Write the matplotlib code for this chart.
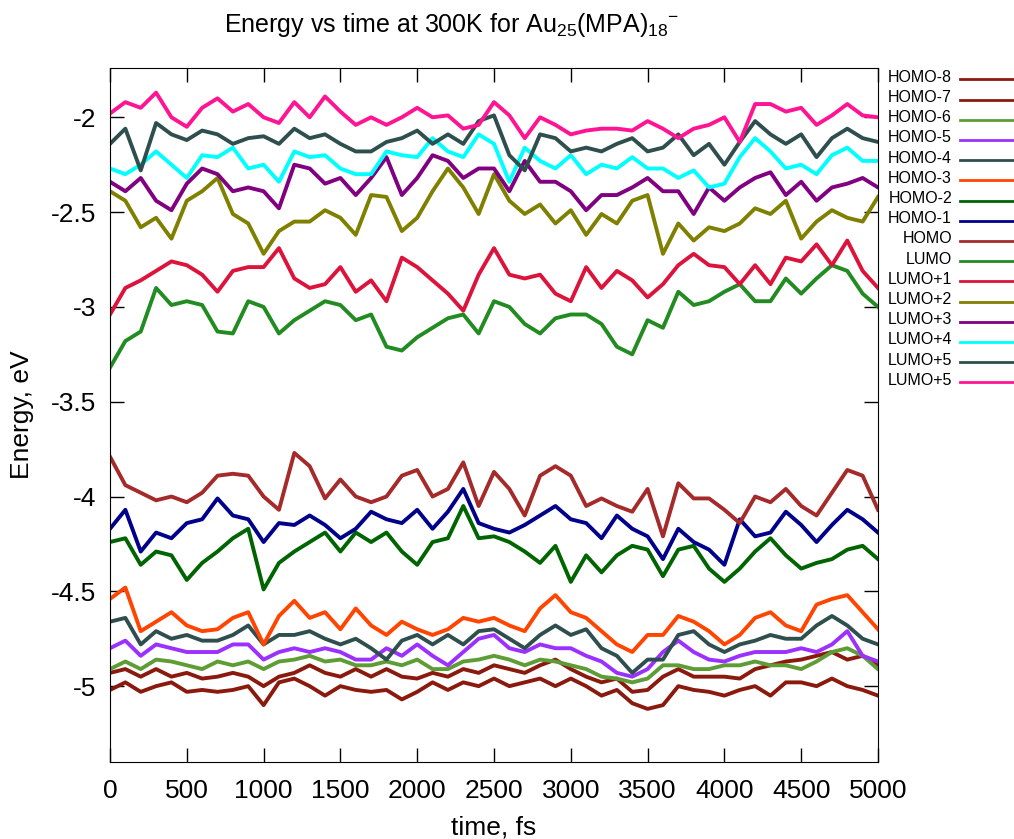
import matplotlib
matplotlib.use("Agg")
import matplotlib.pyplot as plt
from matplotlib.lines import Line2D

plt.rcParams['font.family'] = ['Liberation Sans', 'DejaVu Sans']
plt.rcParams['mathtext.fontset'] = 'custom'
plt.rcParams['mathtext.rm'] = 'Liberation Sans'
plt.rcParams['mathtext.it'] = 'Liberation Sans:italic'

# time axis, fs (sampled every 100 fs)
time_fs = list(range(0, 5001, 100))

# orbital energies, eV
homo8 = [-5.02, -4.98, -5.03, -5.00, -4.98, -5.03, -5.02, -5.03, -5.02, -5.00, -5.10, -4.98, -4.96,
         -5.00, -5.05, -5.00, -5.02, -5.03, -5.02, -5.07, -5.03, -4.98, -5.02, -4.98, -5.00, -4.96,
         -5.00, -4.98, -4.96, -5.00, -4.96, -5.00, -5.05, -5.02, -5.09, -5.12, -5.10, -5.00, -5.02,
         -5.03, -5.05, -5.02, -5.00, -5.05, -4.98, -4.98, -5.00, -4.96, -5.00, -5.02, -5.05]
homo7 = [-4.93, -4.91, -4.95, -4.91, -4.95, -4.93, -4.96, -4.95, -4.93, -4.95, -5.00, -4.95, -4.93,
         -4.89, -4.93, -4.95, -4.91, -4.95, -4.91, -4.95, -4.96, -4.93, -4.95, -4.91, -4.93, -4.89,
         -4.91, -4.93, -4.89, -4.86, -4.91, -4.95, -4.98, -4.96, -5.03, -5.02, -4.95, -4.91, -4.95,
         -4.95, -4.95, -4.96, -4.91, -4.89, -4.87, -4.86, -4.84, -4.82, -4.86, -4.84, -4.89]
homo6 = [-4.91, -4.87, -4.91, -4.86, -4.87, -4.89, -4.91, -4.87, -4.89, -4.87, -4.91, -4.87, -4.86,
         -4.84, -4.87, -4.86, -4.89, -4.89, -4.87, -4.89, -4.86, -4.91, -4.91, -4.87, -4.86, -4.84,
         -4.86, -4.89, -4.86, -4.87, -4.89, -4.91, -4.95, -4.96, -4.98, -4.96, -4.89, -4.89, -4.91,
         -4.91, -4.89, -4.89, -4.87, -4.89, -4.89, -4.91, -4.87, -4.82, -4.80, -4.84, -4.91]
homo5 = [-4.80, -4.76, -4.84, -4.78, -4.80, -4.82, -4.82, -4.82, -4.78, -4.78, -4.86, -4.82, -4.80,
         -4.82, -4.80, -4.82, -4.86, -4.86, -4.80, -4.84, -4.78, -4.84, -4.89, -4.82, -4.75, -4.73,
         -4.80, -4.82, -4.78, -4.80, -4.80, -4.84, -4.87, -4.93, -4.95, -4.91, -4.82, -4.76, -4.82,
         -4.86, -4.87, -4.84, -4.82, -4.82, -4.82, -4.80, -4.82, -4.78, -4.71, -4.84, -4.87]
homo4 = [-4.66, -4.64, -4.78, -4.71, -4.75, -4.73, -4.76, -4.76, -4.73, -4.68, -4.78, -4.73, -4.73,
         -4.71, -4.75, -4.78, -4.75, -4.80, -4.86, -4.76, -4.73, -4.78, -4.73, -4.78, -4.71, -4.70,
         -4.75, -4.80, -4.73, -4.68, -4.73, -4.70, -4.80, -4.84, -4.93, -4.86, -4.86, -4.73, -4.71,
         -4.78, -4.82, -4.78, -4.76, -4.73, -4.75, -4.75, -4.68, -4.63, -4.68, -4.75, -4.78]
homo3 = [-4.54, -4.48, -4.71, -4.66, -4.61, -4.68, -4.71, -4.70, -4.64, -4.61, -4.78, -4.63, -4.55,
         -4.64, -4.61, -4.70, -4.59, -4.68, -4.73, -4.66, -4.70, -4.73, -4.70, -4.64, -4.66, -4.64,
         -4.68, -4.71, -4.59, -4.52, -4.61, -4.64, -4.71, -4.78, -4.82, -4.73, -4.73, -4.63, -4.66,
         -4.71, -4.78, -4.73, -4.64, -4.61, -4.68, -4.71, -4.57, -4.54, -4.52, -4.61, -4.70]
homo2 = [-4.24, -4.22, -4.36, -4.29, -4.31, -4.44, -4.35, -4.29, -4.22, -4.17, -4.49, -4.35, -4.29,
         -4.24, -4.19, -4.29, -4.19, -4.24, -4.19, -4.29, -4.36, -4.24, -4.22, -4.05, -4.22, -4.21,
         -4.24, -4.29, -4.35, -4.26, -4.45, -4.31, -4.40, -4.31, -4.26, -4.28, -4.42, -4.28, -4.26,
         -4.38, -4.45, -4.38, -4.29, -4.22, -4.31, -4.38, -4.35, -4.33, -4.28, -4.26, -4.33]
homo1 = [-4.17, -4.07, -4.29, -4.19, -4.22, -4.14, -4.12, -4.01, -4.10, -4.12, -4.24, -4.14, -4.15,
         -4.10, -4.15, -4.22, -4.17, -4.08, -4.12, -4.14, -4.07, -4.17, -4.08, -3.96, -4.14, -4.17,
         -4.19, -4.15, -4.10, -4.05, -4.12, -4.14, -4.22, -4.10, -4.17, -4.21, -4.33, -4.17, -4.24,
         -4.28, -4.36, -4.12, -4.21, -4.19, -4.08, -4.15, -4.24, -4.15, -4.07, -4.12, -4.19]
homo = [-3.79, -3.94, -3.98, -4.02, -4.00, -4.03, -3.98, -3.89, -3.88, -3.89, -4.00, -4.07, -3.77,
        -3.84, -4.01, -3.91, -4.00, -4.03, -4.00, -3.89, -3.86, -4.00, -3.96, -3.82, -4.05, -3.87,
        -3.96, -4.10, -3.89, -3.84, -3.89, -4.05, -4.01, -4.05, -4.08, -3.96, -4.21, -3.93, -4.01,
        -4.01, -4.07, -4.14, -4.00, -4.03, -3.96, -4.05, -4.10, -3.98, -3.86, -3.89, -4.07]
lumo = [-3.32, -3.18, -3.13, -2.90, -2.99, -2.97, -2.99, -3.13, -3.14, -2.97, -3.00, -3.14, -3.07,
        -3.02, -2.97, -2.99, -3.07, -3.04, -3.21, -3.23, -3.16, -3.11, -3.06, -3.04, -3.14, -2.97,
        -3.00, -3.09, -3.14, -3.06, -3.04, -3.04, -3.09, -3.21, -3.25, -3.07, -3.11, -2.92, -2.99,
        -2.97, -2.92, -2.88, -2.97, -2.97, -2.85, -2.93, -2.85, -2.78, -2.81, -2.93, -3.00]
lumo1 = [-3.04, -2.90, -2.86, -2.81, -2.76, -2.78, -2.83, -2.92, -2.81, -2.79, -2.79, -2.69, -2.85,
         -2.90, -2.88, -2.79, -2.92, -2.86, -2.97, -2.74, -2.79, -2.86, -2.93, -3.02, -2.83, -2.69,
         -2.83, -2.85, -2.83, -2.93, -2.97, -2.79, -2.90, -2.81, -2.86, -2.95, -2.88, -2.78, -2.72,
         -2.78, -2.79, -2.88, -2.78, -2.88, -2.74, -2.76, -2.67, -2.78, -2.65, -2.81, -2.90]
lumo2 = [-2.39, -2.44, -2.58, -2.53, -2.64, -2.44, -2.39, -2.32, -2.51, -2.56, -2.72, -2.60, -2.55,
         -2.55, -2.49, -2.53, -2.62, -2.41, -2.42, -2.60, -2.53, -2.39, -2.27, -2.37, -2.51, -2.30,
         -2.44, -2.51, -2.46, -2.56, -2.49, -2.62, -2.51, -2.56, -2.44, -2.41, -2.72, -2.56, -2.65,
         -2.58, -2.60, -2.56, -2.48, -2.51, -2.44, -2.64, -2.55, -2.49, -2.53, -2.55, -2.42]
lumo3 = [-2.34, -2.39, -2.32, -2.44, -2.49, -2.35, -2.27, -2.30, -2.39, -2.37, -2.39, -2.48, -2.25,
         -2.27, -2.35, -2.32, -2.41, -2.32, -2.21, -2.41, -2.32, -2.20, -2.23, -2.32, -2.27, -2.27,
         -2.39, -2.23, -2.34, -2.34, -2.39, -2.49, -2.41, -2.41, -2.37, -2.32, -2.39, -2.39, -2.51,
         -2.37, -2.44, -2.37, -2.32, -2.29, -2.41, -2.34, -2.44, -2.37, -2.35, -2.32, -2.37]
lumo4 = [-2.27, -2.30, -2.25, -2.18, -2.25, -2.32, -2.20, -2.21, -2.16, -2.27, -2.25, -2.34, -2.18,
         -2.21, -2.20, -2.27, -2.30, -2.30, -2.18, -2.20, -2.21, -2.11, -2.18, -2.21, -2.09, -2.14,
         -2.34, -2.16, -2.23, -2.27, -2.20, -2.30, -2.25, -2.27, -2.21, -2.27, -2.27, -2.32, -2.28,
         -2.37, -2.35, -2.21, -2.11, -2.18, -2.27, -2.25, -2.30, -2.20, -2.16, -2.23, -2.23]
lumo5a = [-2.14, -2.06, -2.28, -2.03, -2.09, -2.12, -2.07, -2.09, -2.14, -2.11, -2.10, -2.14, -2.06,
          -2.11, -2.09, -2.14, -2.18, -2.18, -2.13, -2.11, -2.07, -2.14, -2.09, -2.14, -2.02, -1.99,
          -2.20, -2.28, -2.09, -2.11, -2.18, -2.16, -2.18, -2.14, -2.11, -2.18, -2.16, -2.09, -2.20,
          -2.14, -2.25, -2.13, -2.02, -2.09, -2.14, -2.09, -2.21, -2.11, -2.06, -2.11, -2.13]
lumo5b = [-1.98, -1.92, -1.95, -1.87, -2.00, -2.05, -1.95, -1.90, -1.97, -1.93, -2.00, -2.03, -1.92,
          -2.00, -1.89, -1.97, -2.04, -2.00, -2.04, -2.00, -1.95, -2.00, -1.99, -2.06, -2.04, -1.92,
          -1.99, -2.11, -2.00, -2.04, -2.09, -2.07, -2.06, -2.06, -2.07, -2.02, -2.06, -2.11, -2.06,
          -2.04, -2.00, -2.13, -1.93, -1.93, -1.97, -1.95, -2.04, -1.99, -1.93, -1.99, -2.00]

labels = ['HOMO-8', 'HOMO-7', 'HOMO-6', 'HOMO-5', 'HOMO-4', 'HOMO-3', 'HOMO-2', 'HOMO-1',
          'HOMO', 'LUMO', 'LUMO+1', 'LUMO+2', 'LUMO+3', 'LUMO+4', 'LUMO+5', 'LUMO+5']
series = [homo8, homo7, homo6, homo5, homo4, homo3, homo2, homo1,
          homo, lumo, lumo1, lumo2, lumo3, lumo4, lumo5a, lumo5b]
colors = ['#8b1a0e', '#8b1a0e', '#5e9c36', '#9b30ff', '#2f4f4f', '#ff4500', '#006400', '#00008b',
          '#a52a2a', '#228b22', '#dc143c', '#808000', '#800080', '#00ffff', '#2f4f4f', '#ff1493']

W, H = 1014, 839
fig = plt.figure(figsize=(W / 100, H / 100), dpi=100)
ax = fig.add_axes([110 / W, 1 - 762 / H, 768 / W, 694 / H])

for vals, col in zip(series, colors):
    ax.plot(time_fs, vals, color=col, lw=2.8)

ax.set_xlim(0, 5000)
ax.set_ylim(-5.4, -1.74)
ax.set_xticks(range(0, 5001, 500))
ax.set_yticks([-5, -4.5, -4, -3.5, -3, -2.5, -2])
ax.set_yticklabels(['-5', '-4.5', '-4', '-3.5', '-3', '-2.5', '-2'])
ax.tick_params(direction='in', length=10, width=1, top=True, right=True, labelsize=19)
ax.tick_params(axis='x', pad=12)
ax.tick_params(axis='y', pad=10)

fig.text(452 / W, 1 - 25 / H,
         'Energy vs time at 300K for Au$_{\\mathrm{25}}$(MPA)$_{\\mathrm{18}}{}^{\\mathrm{-}}$',
         ha='center', va='center', fontsize=18)
fig.text(22 / W, 1 - 415 / H, 'Energy, eV', rotation=90, ha='center', va='center', fontsize=19)
fig.text(494 / W, 1 - 828 / H, 'time, fs', ha='center', va='center', fontsize=19)

# key on the right, text right aligned, sample line after it
for i, (lab, col) in enumerate(zip(labels, colors)):
    y = 79.3 + 20.2 * i
    fig.text(952 / W, 1 - (y - 2) / H, lab, ha='right', va='center', fontsize=11.5)
    fig.add_artist(Line2D([960 / W, 1013 / W], [1 - y / H, 1 - y / H], color=col, lw=2))

fig.savefig('out.png', dpi=100)
